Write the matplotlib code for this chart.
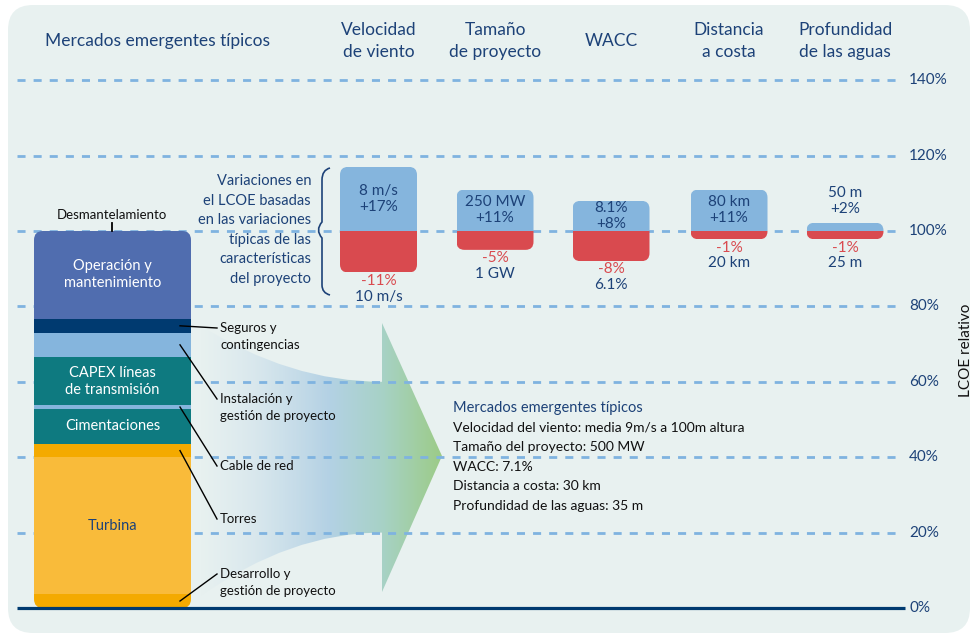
import numpy as np
import matplotlib.pyplot as plt
from matplotlib.patches import FancyBboxPatch, PathPatch
from matplotlib.path import Path
from matplotlib.colors import to_rgb

plt.rcParams['font.family'] = ['Lato', 'DejaVu Sans']

# stacked LCOE breakdown (bottom to top, % of total)
seg_names = ['Desarrollo y\ngestión de proyecto', 'Turbina', 'Torres', 'Cimentaciones',
             'Cable de red', 'CAPEX líneas\nde transmisión', 'Instalación y\ngestión de proyecto',
             'Seguros y\ncontingencias', 'Operación y\nmantenimiento']
seg_vals = [3.7, 36.3, 3.5, 9.3, 1.0, 12.8, 6.4, 3.7, 23.3]

# sensitivity of LCOE to project characteristics
cats = ['Velocidad\nde viento', 'Tamaño\nde proyecto', 'WACC', 'Distancia\na costa', 'Profundidad\nde las aguas']
up_pct = [17, 11, 8, 11, 2]
down_pct = [-11, -5, -8, -1, -1]
up_lbl = ['8 m/s', '250 MW', '8.1%', '80 km', '50 m']
down_lbl = ['10 m/s', '1 GW', '6.1%', '20 km', '25 m']

yticks = [0, 20, 40, 60, 80, 100, 120, 140]

base_lines = ['Velocidad del viento: media 9m/s a 100m altura', 'Tamaño del proyecto: 500 MW',
              'WACC: 7.1%', 'Distancia a costa: 30 km', 'Profundidad de las aguas: 35 m']

NAVY = '#1D4278'
RED = '#D94A4F'
BLUE = '#85B5DD'
seg_colors = ['#F4AA00', '#F9BB3A', '#F4AA00', '#0E7A80', '#85B5DD', '#0E7A80', '#85B5DD', '#003A70', '#506DAF']

PX = 3.77  # pixels per percent


def py(p):
    # pixel row -> percent
    return (608 - p) / PX


fig = plt.figure(figsize=(9.72, 6.38), dpi=100)
ax = fig.add_axes([0, 0, 1, 1])
ax.set_xlim(0, 972)
ax.set_ylim(py(638), py(0))
ax.axis('off')

# background card
bg = FancyBboxPatch((8, py(633)), 962, py(5) - py(633), boxstyle='round,pad=0,rounding_size=25',
                    mutation_aspect=1 / PX, fc='#E8F1F0', ec='none', zorder=0)
ax.add_patch(bg)

# gradient arrow
verts = [(200, 75), (290, 60), (382, 60), (382, py(323)), (442, py(456)), (382, py(592)),
         (382, 20), (290, 20), (200, 3), (200, 75)]
codes = [Path.MOVETO, Path.CURVE3, Path.CURVE3, Path.LINETO, Path.LINETO, Path.LINETO,
         Path.LINETO, Path.CURVE3, Path.CURVE3, Path.CLOSEPOLY]
arrow = PathPatch(Path(verts, codes), fc='none', ec='none', transform=ax.transData)
ax.add_patch(arrow)
stops_x = [200, 255, 330, 382, 442]
stops_c = ['#C4DBEC', '#BCD6E8', '#B3D1E4', '#A7D2C6', '#9CCB86']
stops_a = [0.0, 0.35, 1.0, 1.0, 1.0]
xs = np.linspace(200, 442, 400)
rgb = np.array([to_rgb(c) for c in stops_c])
img = np.zeros((1, len(xs), 4))
for k in range(3):
    img[0, :, k] = np.interp(xs, stops_x, rgb[:, k])
img[0, :, 3] = np.interp(xs, stops_x, stops_a)
im = ax.imshow(img, extent=(200, 442, 0, 80), aspect='auto', zorder=1, interpolation='bilinear')
im.set_clip_path(arrow)

# gridlines
for t in yticks[1:]:
    ax.plot([17, 903], [t, t], color='#7FB3E0', lw=2, linestyle=(0, (2.9, 2.9)), zorder=2,
            solid_capstyle='butt', dash_capstyle='butt')
ax.plot([17, 905], [0, 0], color='#003A70', lw=2.3, zorder=6, solid_capstyle='butt')
for t in yticks:
    ax.text(909, t, f'{t}%', ha='left', va='center', fontsize=11, color=NAVY)
ax.text(966, py(350), 'LCOE relativo', rotation=90, ha='center', va='center', fontsize=11, color='#111111')

# stacked bar
sx0, sw = 34, 157
stack_clip = FancyBboxPatch((sx0, 0), sw, sum(seg_vals), boxstyle='round,pad=0,rounding_size=9',
                            mutation_aspect=1 / PX, fc='none', ec='none')
ax.add_patch(stack_clip)
bottoms = np.concatenate([[0], np.cumsum(seg_vals)[:-1]])
bars = ax.bar(sx0 + sw / 2, seg_vals, width=sw, bottom=bottoms, color=seg_colors, zorder=3)
for b in bars:
    b.set_clip_path(stack_clip)

inside = {'Turbina': NAVY, 'Cimentaciones': 'white', 'CAPEX líneas\nde transmisión': 'white',
          'Operación y\nmantenimiento': 'white'}
leader_end = {'Seguros y\ncontingencias': 328, 'Instalación y\ngestión de proyecto': 399,
              'Cable de red': 466, 'Torres': 519, 'Desarrollo y\ngestión de proyecto': 574}


def lines_at(x, y_px, text, step, **kw):
    for i, ln in enumerate(text.split('\n')):
        ax.text(x, py(y_px + i * step), ln, va='center', **kw)


for name, v, b0 in zip(seg_names, seg_vals, bottoms):
    mid = b0 + v / 2
    if name in inside:
        n = name.count('\n')
        lines_at(sx0 + sw / 2, 608 - mid * PX - n * 8.5, name, 17, ha='center',
                 fontsize=10.5, color=inside[name], zorder=4)
    else:
        ey = leader_end[name]
        ax.plot([180, 217], [mid, py(ey)], color='black', lw=1, zorder=4)
        lines_at(220, ey, name, 17, ha='left', fontsize=9.5, color='#111111')

ax.plot([112, 112], [py(223), 100], color='black', lw=1.3, zorder=4)
ax.text(112, py(215), 'Desmantelamiento', ha='center', va='center', fontsize=9.5, color='#111111')

# sensitivity bars
cx = [378.5, 495, 611, 729, 845]
bw = 77
for x, h, lo, hl, ll, cat in zip(cx, up_pct, down_pct, up_lbl, down_lbl, cats):
    hv = max(h, 2.2)
    lv = min(lo, -2.2)
    clip = FancyBboxPatch((x - bw / 2, 100 + lv), bw, hv - lv, boxstyle='round,pad=0,rounding_size=8',
                          mutation_aspect=1 / PX, fc='none', ec='none')
    ax.add_patch(clip)
    up = ax.bar(x, hv, width=bw, bottom=100, color=BLUE, zorder=3)[0]
    dn = ax.bar(x, lv, width=bw, bottom=100, color=RED, zorder=3)[0]
    up.set_clip_path(clip)
    dn.set_clip_path(clip)
    c = 100 + h / 2 if h >= 5 else 100 + h + 6
    ax.text(x, c + 2.1, hl, ha='center', va='center', fontsize=11, color=NAVY, zorder=4)
    ax.text(x, c - 2.1, f'+{h}%', ha='center', va='center', fontsize=11, color=NAVY, zorder=4)
    ax.text(x, 100 + lv - 2.2, f'{lo}%', ha='center', va='center', fontsize=11, color=RED, zorder=4)
    ax.text(x, 100 + lv - 6.4, ll, ha='center', va='center', fontsize=11, color=NAVY, zorder=4)
    n = cat.count('\n')
    lines_at(x, 41 - n * 11, cat, 22, ha='center', fontsize=12.5, color=NAVY)

# brace
bx = [330, 322, 322, 322, 315, 322, 322, 322, 330]
by = [168, 170, 180, 222, 230, 238, 285, 293, 295]
bcodes = [Path.MOVETO, Path.CURVE3, Path.CURVE3, Path.LINETO, Path.CURVE3, Path.CURVE3,
          Path.LINETO, Path.CURVE3, Path.CURVE3]
brace = Path([(a, py(b)) for a, b in zip(bx, by)], bcodes)
ax.add_patch(PathPatch(brace, fc='none', ec=NAVY, lw=1.2, zorder=4))

lines_at(311, 181, 'Variaciones en\nel LCOE basadas\nen las variaciones\ntípicas de las\ncaracterísticas\ndel proyecto',
         19.6, ha='right', fontsize=10.5, color=NAVY)

ax.text(45, py(41), 'Mercados emergentes típicos', ha='left', va='center', fontsize=12.5, color=NAVY)

# base case box
ax.text(453, py(408), 'Mercados emergentes típicos', ha='left', va='center', fontsize=10.5, color=NAVY)
for i, ln in enumerate(base_lines):
    ax.text(453, py(427.5 + i * 19.6), ln, ha='left', va='center', fontsize=10, color='#111111')

fig.savefig('out.png', dpi=100, facecolor='white')
